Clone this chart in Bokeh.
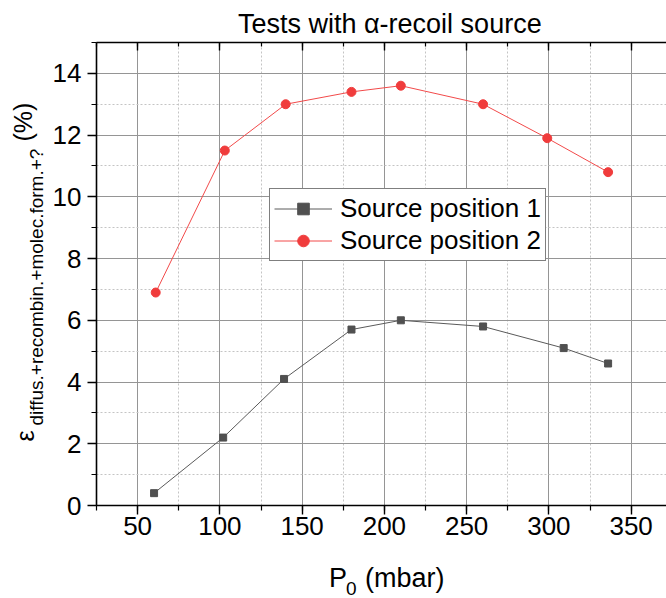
import math
from bokeh.plotting import figure
from bokeh.models import (Range1d, LinearAxis, SingleIntervalTicker, Legend, Grid)
from bokeh.layouts import row, column
from bokeh.core.properties import value
from bokeh.embed import file_html
from bokeh.resources import INLINE

# ---- data ----
x1 = [60, 102, 139, 180, 210, 260, 309, 336]
y1 = [0.4, 2.2, 4.1, 5.7, 6.0, 5.8, 5.1, 4.6]
x2 = [61, 103, 140, 180, 210, 260, 299, 336]
y2 = [6.9, 11.5, 13.0, 13.4, 13.6, 13.0, 11.9, 10.8]
series_names = ["Source position 1", "Source position 2"]
title_text = "Tests with \u03b1-recoil source"
xlab_main, xlab_sub, xlab_rest = "P", "0", "(mbar)"
ylab_main, ylab_sub, ylab_rest = "\u03b5", "diffus.+recombin.+molec.form.+?", "(%)"

FONT = "Liberation Sans"
W, H = 666, 598
FYW = 48                 # width of the strip holding the y-axis title
FL, FT, FB = 96, 42, 505  # frame left/top/bottom in page px
PTOP = 4                  # main figure border above frame
X0, X1, Y0, Y1 = 25, 371.5, 0, 15
SHIFT = 0.35              # empirical baseline correction (fraction of font size)
HSHIFT = 22               # empirical horizontal correction for the horizontal strips

TITLE_H = FT - PTOP
MAIN_H = PTOP + (FB - FT) + 48
XLAB_H = H - TITLE_H - MAIN_H
RW = W - FYW


def text_fig(w, h):
    f = figure(width=w, height=h, output_backend="svg", toolbar_location=None,
               x_range=Range1d(0, w), y_range=Range1d(0, h),
               x_axis_type=None, y_axis_type=None, min_border=0)
    f.outline_line_color = None
    f.background_fill_color = "white"
    f.border_fill_color = "white"
    f.xgrid.visible = False
    f.ygrid.visible = False
    return f


def put(f, x0, y0, h, text, X, Y, size, align="left", rotated=False):
    # X, Y: page pixels (baseline anchor); converted to the strip's local coordinates
    s = SHIFT * size
    if rotated:
        X -= s
    else:
        Y -= s
        X -= HSHIFT
    f.text(x=[X - x0], y=[h - (Y - y0)], text=[text], text_font=value(FONT),
           text_font_size=value(f"{size}px"), text_color="black", text_align=align,
           text_baseline="alphabetic", angle=(math.pi / 2 if rotated else 0.0))


# ---- title strip ----
ft = text_fig(RW, TITLE_H)
put(ft, FYW, 0, TITLE_H, title_text, 388, 33, 27, align="center")

# ---- y-axis title strip ----
fy = text_fig(FYW, H)
put(fy, 0, 0, H, ylab_main, 33, 441, 25, rotated=True)
put(fy, 0, 0, H, ylab_sub, 43, 425, 19, rotated=True)
put(fy, 0, 0, H, ylab_rest, 31, 141, 25, rotated=True)

# ---- x-axis title strip ----
fx = text_fig(RW, XLAB_H)
y_off = TITLE_H + MAIN_H
put(fx, FYW, y_off, XLAB_H, xlab_main, 322, 587, 27)
put(fx, FYW, y_off, XLAB_H, xlab_sub, 340.5, 595, 19)
put(fx, FYW, y_off, XLAB_H, xlab_rest, 361, 587, 27)

# ---- main plot ----
p = figure(width=RW, height=MAIN_H, output_backend="svg", toolbar_location=None,
           x_range=Range1d(X0, X1), y_range=Range1d(Y0, Y1),
           x_axis_type=None, y_axis_type=None,
           min_border_left=FL - FYW, min_border_top=PTOP, min_border_right=0,
           min_border_bottom=MAIN_H - PTOP - (FB - FT))
p.outline_line_color = None
p.background_fill_color = "white"
p.border_fill_color = "white"

xt = SingleIntervalTicker(interval=50, num_minor_ticks=2)
yt = SingleIntervalTicker(interval=2, num_minor_ticks=2)


def style_axis(ax, labels=True, inward=False):
    ax.axis_line_color = "black"
    ax.axis_line_width = 1.6
    ax.major_tick_line_color = "black"
    ax.minor_tick_line_color = "black"
    ax.major_tick_line_width = 1.4
    ax.minor_tick_line_width = 1.2
    if inward:
        ax.major_tick_in, ax.major_tick_out = 8, 0
        ax.minor_tick_in, ax.minor_tick_out = 4, 0
    else:
        ax.major_tick_in, ax.major_tick_out = 0, 9
        ax.minor_tick_in, ax.minor_tick_out = 0, 5
    if labels:
        ax.major_label_text_font = FONT
        ax.major_label_text_font_size = "26px"
        ax.major_label_text_color = "black"
    else:
        ax.major_label_text_font_size = "1px"
        ax.major_label_text_color = None
        ax.major_label_text_alpha = 0
        ax.major_label_standoff = 0


xb = LinearAxis(ticker=xt)
style_axis(xb)
xb.major_label_standoff = 2
p.add_layout(xb, "below")
yl = LinearAxis(ticker=yt)
style_axis(yl)
yl.major_label_standoff = 6
p.add_layout(yl, "left")
xa = LinearAxis(ticker=xt)
style_axis(xa, labels=False, inward=True)
p.add_layout(xa, "above")

for dim, tk in ((0, xt), (1, yt)):
    g = Grid(dimension=dim, ticker=tk)
    g.grid_line_color = "#959595"
    g.grid_line_width = 1
    g.minor_grid_line_color = "#c4c4c4"
    g.minor_grid_line_dash = "2 2"
    g.minor_grid_line_width = 1
    g.level = "underlay"
    p.add_layout(g, "center")

c1, c2 = "#505050", "#f03c3c"
l1 = p.line(x1, y1, line_color="#5a5a5a", line_width=1)
s1 = p.scatter(x1, y1, marker="square", size=7, fill_color=c1, line_color=c1)
l2 = p.line(x2, y2, line_color="#f24a4a", line_width=1)
s2 = p.scatter(x2, y2, marker="circle", size=9, fill_color=c2, line_color=c2)

legend = Legend(items=[(series_names[0], [l1, s1]), (series_names[1], [l2, s2])],
                location=(173, 244))
legend.label_text_font = FONT
legend.label_text_font_size = "26px"
legend.label_text_color = "black"
legend.glyph_width = 58
legend.glyph_height = 29
legend.label_height = 29
legend.label_standoff = 8
legend.padding = 4
legend.spacing = 1
legend.margin = 0
legend.border_line_color = "black"
legend.border_line_width = 1
legend.background_fill_color = "white"
legend.background_fill_alpha = 1
p.add_layout(legend, "center")

layout = row(fy, column(ft, p, fx, spacing=0), spacing=0)

open("out.html", "w").write(file_html(layout, INLINE))
